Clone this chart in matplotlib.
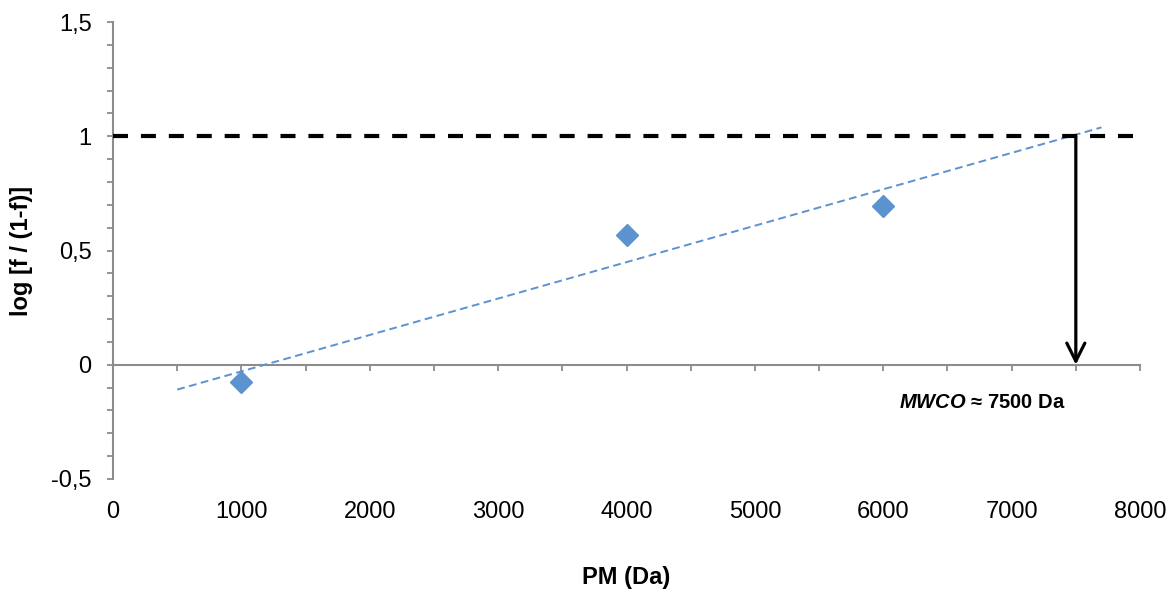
import numpy as np
import matplotlib
matplotlib.use("Agg")
import matplotlib.pyplot as plt
from matplotlib.ticker import MultipleLocator, FuncFormatter

plt.rcParams['font.family'] = ['Liberation Sans', 'DejaVu Sans']
plt.rcParams['mathtext.fontset'] = 'custom'
plt.rcParams['mathtext.it'] = 'Liberation Sans:italic:bold'
plt.rcParams['mathtext.rm'] = 'Liberation Sans:bold'

pm = [1000, 4000, 6000]
logf = [-0.077, 0.569, 0.696]
mwco = 7500
threshold = 1.0
trend_range = [500, 7700]

blue = '#5b93cf'
gray = '#8c8c8c'

fig = plt.figure(figsize=(11.69, 5.89), dpi=100)
ax = fig.add_axes([0.0967, 0.1868, 0.9752 - 0.0967, 0.9626 - 0.1868])
ax.set_xlim(0, 8000)
ax.set_ylim(-0.5, 1.5)

# trendline (linear fit)
k, b = np.polyfit(pm, logf, 1)
xt = np.array(trend_range)
ax.plot(xt, k * xt + b, color=blue, lw=1.4, ls=(0, (4, 2.3)), zorder=2)

# threshold
ax.plot([0, 7960], [threshold, threshold], color='black', lw=3, ls=(0, (3.6, 3.1)), zorder=3)

# data
ax.plot(pm, logf, ls='none', marker='D', ms=11.5, color=blue, mec=blue, zorder=4)

# arrow
ax.annotate('', xy=(mwco, 0), xytext=(mwco, threshold),
            arrowprops=dict(arrowstyle='->,head_length=1.3,head_width=0.65', color='black', lw=2.3,
                            shrinkA=0, shrinkB=0),
            zorder=5)

ax.text(6772, -0.166, r'$\it{MWCO}$' + ' ≈ 7500 Da', ha='center', va='center',
        fontsize=14.5, fontweight='bold')

# axes styling
for s in ['top', 'right', 'bottom']:
    ax.spines[s].set_visible(False)
ax.spines['left'].set_color(gray)
ax.spines['left'].set_linewidth(1.5)

ax.yaxis.set_major_locator(MultipleLocator(0.5))
ax.yaxis.set_minor_locator(MultipleLocator(0.1))
ax.yaxis.set_major_formatter(FuncFormatter(lambda v, p: ('%g' % v).replace('.', ',')))
ax.tick_params(axis='y', which='both', direction='out', length=4.5, width=1.3, color=gray,
               labelsize=17, pad=11)

ax.xaxis.set_major_locator(MultipleLocator(1000))
ax.tick_params(axis='x', which='both', length=0, labelsize=17, pad=16)

sec = ax.secondary_xaxis(0.25)
sec.xaxis.set_major_locator(MultipleLocator(500))
sec.tick_params(axis='x', direction='out', length=4.5, width=1.3, color=gray, labelbottom=False)
sec.spines['bottom'].set_color(gray)
sec.spines['bottom'].set_linewidth(1.5)

ax.set_xlabel('PM (Da)', fontsize=17, fontweight='bold', labelpad=31)
ax.set_ylabel('log [f / (1-f)]', fontsize=17, fontweight='bold', labelpad=13)

fig.savefig('out.png', dpi=100)
